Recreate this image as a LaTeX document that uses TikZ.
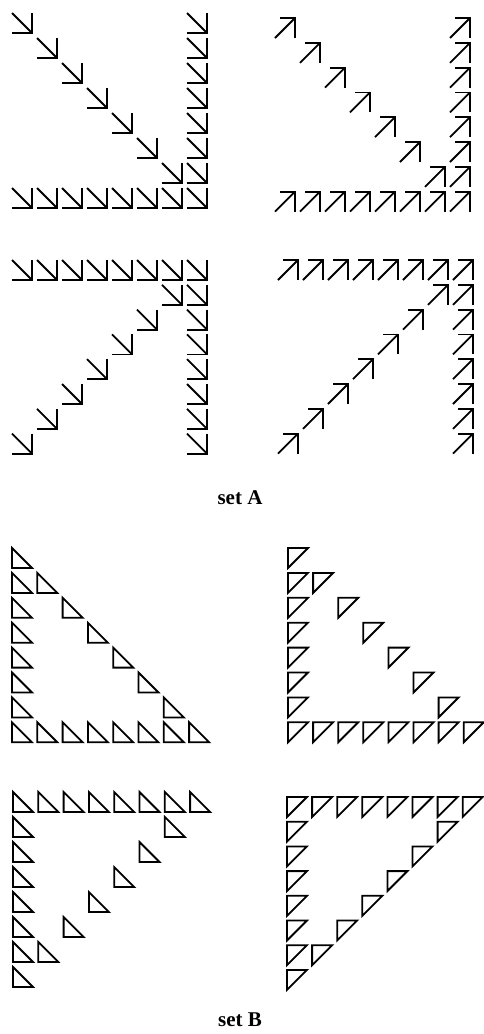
\documentclass[tikz,border=0pt]{standalone}
\usepackage{fontspec}
\setmainfont{Liberation Serif}
\usepackage{tikz}

\begin{document}
\begin{tikzpicture}[
			x=1pt, y=-1pt,
			glyph/.style={line width=1.8pt, black},
			setlabel/.style={font=\fontsize{21}{25}\selectfont\bfseries, inner sep=0pt},
			dnarrow/.pic={\draw[glyph] (0,0) -- (20,20); \draw[glyph] (20,0) -- (20,20) -- (0,20);},
			uparrow/.pic={\draw[glyph] (0,20) -- (20,0); \draw[glyph] (5,0) -- (20,0) -- (20,20);},
			lotri/.pic={\draw[glyph] (0,0) -- (0,20) -- (20,20) -- cycle;},
			hitri/.pic={\draw[glyph] (0,0) -- (20,0) -- (0,20) -- cycle;}
			]
			\useasboundingbox (0,0) rectangle (483,1034);
			
			% --- set A, top left ---
			\begin{scope}[shift={(12,13)}]
				\foreach \r in {0,...,6} \pic at (25*\r,25*\r) {dnarrow};
				\foreach \r in {0,...,7} \pic at (175,25*\r) {dnarrow};
				\foreach \c in {0,...,6} \pic at (25*\c,175) {dnarrow};
			\end{scope}
			
			% --- set A, top right ---
			\begin{scope}[shift={(275,18)}]
				\foreach \r in {0,...,6} \pic at (25*\r,24.8*\r) {uparrow};
				\foreach \r in {0,...,7} \pic at (175,24.8*\r) {uparrow};
				\foreach \c in {0,...,6} \pic at (25*\c,173.6) {uparrow};
			\end{scope}
			
			% --- set A, bottom left ---
			\begin{scope}[shift={(12,260)}]
				\foreach \c in {0,...,7} \pic at (25*\c,0) {dnarrow};
				\foreach \r in {1,...,7} \pic at (175,24.8*\r) {dnarrow};
				\foreach \r in {1,...,7} \pic at (175-25*\r,24.8*\r) {dnarrow};
			\end{scope}
			
			% --- set A, bottom right ---
			\begin{scope}[shift={(278,260)}]
				\foreach \c in {0,...,7} \pic at (25*\c,0) {uparrow};
				\foreach \r in {1,...,7} \pic at (175,24.8*\r) {uparrow};
				\foreach \r in {1,...,7} \pic at (175-25*\r,24.8*\r) {uparrow};
			\end{scope}
			
			\node[setlabel] (setA) at (240,498) {set A};
			
			% --- set B, top left ---
			\begin{scope}[shift={(12,548)}]
				\foreach \r in {0,...,7} \pic at (0,24.9*\r) {lotri};
				\foreach \r in {1,...,6} \pic at (25.3*\r,24.9*\r) {lotri};
				\foreach \c in {1,...,7} \pic at (25.3*\c,174.3) {lotri};
			\end{scope}
			
			% --- set B, top right ---
			\begin{scope}[shift={(288,548)}]
				\foreach \r in {0,...,7} \pic at (0,24.9*\r) {hitri};
				\foreach \r in {1,...,6} \pic at (25.1*\r,24.9*\r) {hitri};
				\foreach \c in {1,...,7} \pic at (25.1*\c,174.3) {hitri};
			\end{scope}
			
			% --- set B, bottom left ---
			\begin{scope}[shift={(13,792)}]
				\foreach \c in {0,...,7} \pic at (25.3*\c,0) {lotri};
				\foreach \r in {1,...,7} \pic at (0,25*\r) {lotri};
				\foreach \r in {1,...,6} \pic at (177.1-25.3*\r,25*\r) {lotri};
			\end{scope}
			
			% --- set B, bottom right ---
			\begin{scope}[shift={(287,797)}]
				\foreach \c in {0,...,7} \pic at (25.1*\c,0) {hitri};
				\foreach \r in {1,...,7} \pic at (0,24.7*\r) {hitri};
				\foreach \r in {1,...,6} \pic at (175.7-25.1*\r,24.7*\r) {hitri};
			\end{scope}
			
			\node[setlabel] (setB) at (240,1020) {set B};
			
\end{tikzpicture}
\end{document}
